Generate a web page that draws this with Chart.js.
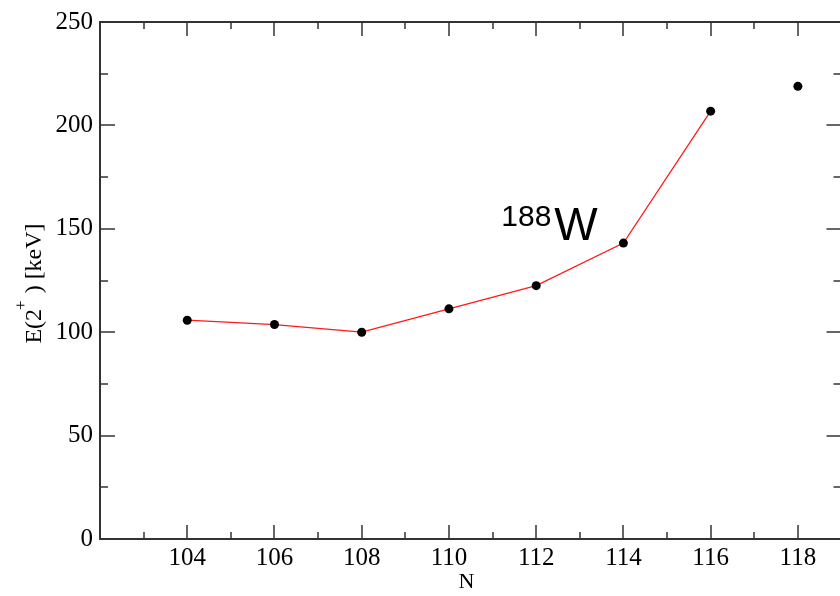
<!DOCTYPE html>
<html>
<head>
<meta charset="utf-8">
<script src="https://cdn.jsdelivr.net/npm/chart.js@4.4.1/dist/chart.umd.min.js"></script>
<style>
    html, body { margin: 0; padding: 0; background: #fff; overflow: hidden; }
    #wrap { width: 846px; height: 596px; }
</style>
</head>
<body>
<div id="wrap"><canvas id="e2Chart" width="846" height="596"></canvas></div>
<script>
// neutron number N and the first 2+ energy in keV
const neutronN = [104, 106, 108, 110, 112, 114, 116];
const energyKeV = [105.8, 103.7, 100.0, 111.3, 122.5, 143.1, 206.9];
const extraN = [118];
const extraKeV = [218.9];

const xTicks = [104, 106, 108, 110, 112, 114, 116, 118];
const xMinorTicks = [103, 105, 107, 109, 111, 113, 115, 117];
const yTicks = [0, 50, 100, 150, 200, 250];
const yMinorTicks = [25, 75, 125, 175, 225];

const serif = '"Liberation Serif", "Times New Roman", serif';
const sans = '"Liberation Sans", Arial, sans-serif';

// inward ticks on all four sides plus the closed frame
const framePlugin = {
    id: 'frame',
    beforeDatasetsDraw(chart) {
        const { ctx, chartArea: a, scales } = chart;
        const x = scales.x, y = scales.y;
        ctx.save();
        ctx.strokeStyle = '#666';
        ctx.lineWidth = 2;
        const tick = (x1, y1, x2, y2) => {
            ctx.beginPath(); ctx.moveTo(x1, y1); ctx.lineTo(x2, y2); ctx.stroke();
        };
        xTicks.forEach(v => {
            const px = Math.round(x.getPixelForValue(v));
            tick(px, a.bottom, px, a.bottom - 14);
            tick(px, a.top, px, a.top + 14);
        });
        xMinorTicks.forEach(v => {
            const px = Math.round(x.getPixelForValue(v));
            tick(px, a.bottom, px, a.bottom - 7);
            tick(px, a.top, px, a.top + 7);
        });
        yTicks.forEach(v => {
            const py = Math.round(y.getPixelForValue(v));
            tick(a.left, py, a.left + 15, py);
            tick(a.right, py, a.right - 15, py);
        });
        yMinorTicks.forEach(v => {
            const py = Math.round(y.getPixelForValue(v));
            tick(a.left, py, a.left + 8, py);
            tick(a.right, py, a.right - 8, py);
        });
        ctx.strokeStyle = '#333';
        ctx.lineWidth = 2;
        ctx.strokeRect(a.left, a.top, a.right - a.left, a.bottom - a.top);
        ctx.restore();
    },
    afterDraw(chart) {
        const { ctx, chartArea: a, scales } = chart;
        ctx.save();
        ctx.fillStyle = '#000';

        // y axis title with superscript
        ctx.translate(41, (a.top + a.bottom) / 2 + 3);
        ctx.rotate(-Math.PI / 2);
        ctx.textBaseline = 'alphabetic';
        const main = '24px ' + serif, sup = '17px ' + serif;
        ctx.font = main;
        const w1 = ctx.measureText('E(2').width;
        const w3 = ctx.measureText(' ) [keV]').width;
        ctx.font = sup;
        const w2 = ctx.measureText('+').width;
        let cx = -(w1 + w2 + w3) / 2;
        ctx.font = main;
        ctx.fillText('E(2', cx, 0);
        cx += w1;
        ctx.font = sup;
        ctx.fillText('+', cx - 1, -15);
        cx += w2;
        ctx.font = main;
        ctx.fillText(' ) [keV]', cx, 0);
        ctx.restore();

        // x axis title
        ctx.save();
        ctx.fillStyle = '#000';
        ctx.font = '22px ' + serif;
        ctx.textAlign = 'center';
        ctx.textBaseline = 'alphabetic';
        ctx.fillText('N', scales.x.getPixelForValue(110.4), 588);

        // nucleus label placed in data coordinates
        const lx = scales.x.getPixelForValue(111.2);
        const ly = scales.y.getPixelForValue(144.4);
        ctx.textAlign = 'left';
        ctx.font = '30px ' + sans;
        ctx.fillText('188', lx, ly - 14);
        const wMass = ctx.measureText('188').width;
        ctx.font = '46px ' + sans;
        ctx.fillText('W', lx + wMass + 3, ly);
        ctx.restore();
    }
};

new Chart(document.getElementById('e2Chart'), {
    type: 'line',
    data: {
        datasets: [
            {
                data: neutronN.map((n, i) => ({ x: n, y: energyKeV[i] })),
                borderColor: 'rgba(255, 0, 0, 0.9)',
                borderWidth: 1.3,
                pointRadius: 4.5,
                pointBackgroundColor: '#000',
                pointBorderWidth: 0,
                tension: 0,
            },
            {
                data: extraN.map((n, i) => ({ x: n, y: extraKeV[i] })),
                showLine: false,
                pointRadius: 4.5,
                pointBackgroundColor: '#000',
                pointBorderWidth: 0,
            },
        ],
    },
    options: {
        responsive: false,
        animation: false,
        devicePixelRatio: 1,
        layout: { padding: { top: 19, right: 1, left: 0, bottom: 0 } },
        plugins: {
            legend: { display: false },
            tooltip: { enabled: false },
        },
        scales: {
            x: {
                type: 'linear',
                min: 102,
                max: 119,
                afterBuildTicks: s => { s.ticks = xTicks.map(v => ({ value: v })); },
                afterFit: s => { s.height = 57; },
                grid: { display: false, drawTicks: false },
                border: { display: false },
                ticks: {
                    font: { family: serif, size: 25 },
                    color: '#000',
                    padding: 4,
                    maxRotation: 0,
                },
            },
            y: {
                min: 0,
                max: 250,
                afterBuildTicks: s => { s.ticks = yTicks.map(v => ({ value: v })); },
                afterFit: s => { s.width = 100; },
                grid: { display: false, drawTicks: false },
                border: { display: false },
                ticks: {
                    font: { family: serif, size: 25 },
                    color: '#000',
                    padding: 7,
                },
            },
        },
    },
    plugins: [framePlugin],
});
</script>
</body>
</html>
